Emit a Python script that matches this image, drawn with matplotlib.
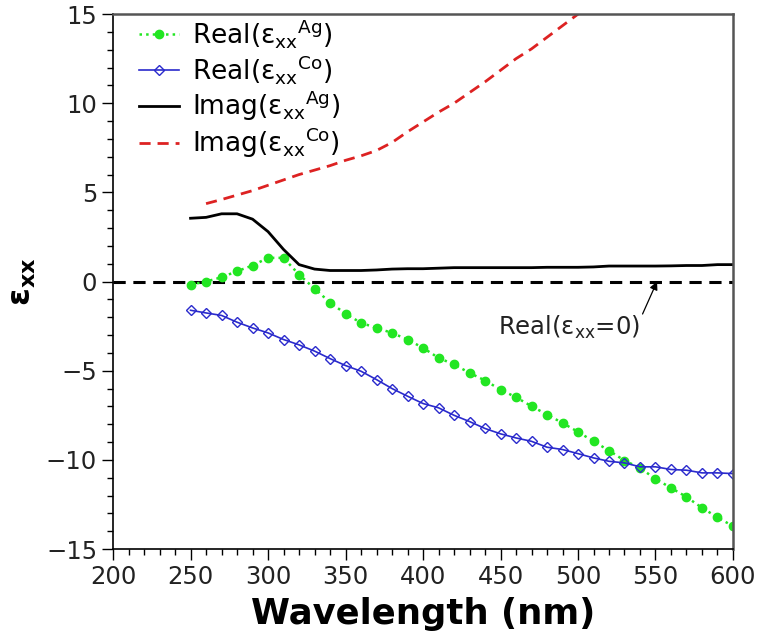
import numpy as np
import matplotlib.pyplot as plt
from matplotlib.ticker import MultipleLocator

plt.rcParams['mathtext.default'] = 'regular'

# wavelength grid (nm)
wl = np.arange(250, 601, 10)

real_ag = [-0.17, 0.0, 0.24, 0.58, 0.9, 1.33, 1.33, 0.39, -0.39, -1.18,
           -1.8, -2.32, -2.6, -2.88, -3.25, -3.72, -4.28, -4.65, -5.12, -5.55,
           -6.06, -6.49, -6.99, -7.46, -7.93, -8.43, -8.96, -9.48, -10.04, -10.45,
           -11.07, -11.57, -12.08, -12.69, -13.22, -13.72]

real_co = [-1.61, -1.76, -1.9, -2.28, -2.6, -2.88, -3.25, -3.55, -3.9, -4.32,
           -4.71, -5.03, -5.5, -6.0, -6.43, -6.84, -7.08, -7.5, -7.85, -8.24,
           -8.54, -8.77, -8.96, -9.29, -9.42, -9.65, -9.89, -10.08, -10.17, -10.39,
           -10.39, -10.54, -10.58, -10.73, -10.73, -10.77]

imag_ag = [3.55, 3.6, 3.8, 3.8, 3.5, 2.8, 1.8, 0.95, 0.7, 0.62,
           0.62, 0.62, 0.65, 0.7, 0.72, 0.72, 0.75, 0.78, 0.78, 0.78,
           0.78, 0.78, 0.78, 0.8, 0.8, 0.8, 0.82, 0.87, 0.87, 0.87,
           0.87, 0.88, 0.9, 0.9, 0.95, 0.95]

wl_co = np.arange(260, 511, 10)
imag_co = [4.37, 4.6, 4.85, 5.1, 5.4, 5.7, 6.0, 6.25, 6.5, 6.8,
           7.05, 7.35, 7.8, 8.4, 8.95, 9.5, 10.0, 10.6, 11.2, 11.85,
           12.5, 13.05, 13.7, 14.35, 15.0, 15.7]

fig = plt.figure(figsize=(7.64, 6.41), dpi=100)
ax = fig.add_axes([0.148, 0.1435, 0.8114, 0.8345])

ax.axhline(0, color='black', ls=(0, (4, 2.5)), lw=2.2, zorder=1)

ax.plot(wl, real_ag, ls=':', color='#22e622', lw=1.8, marker='o', ms=6,
        label=r'Real(ε$_{xx}$$^{Ag}$)')
ax.plot(wl, real_co, ls='-', color='#2a2acc', lw=1.2, marker='D', ms=5.5,
        mfc='none', mew=1.0, label=r'Real(ε$_{xx}$$^{Co}$)')
ax.plot(wl, imag_ag, ls='-', color='black', lw=2, label=r'Imag(ε$_{xx}$$^{Ag}$)')
ax.plot(wl_co, imag_co, ls=(0, (4, 2.5)), color='#dd2222', lw=2,
        label=r'Imag(ε$_{xx}$$^{Co}$)')

ax.annotate(r'Real(ε$_{xx}$=0)', xy=(551, 0), xytext=(494, -2.55),
            ha='center', va='center', fontsize=17.5, color='#222222',
            arrowprops=dict(arrowstyle='-|>', color='black', lw=0.9,
                            shrinkA=0, shrinkB=0, mutation_scale=12,
                            relpos=(1.0, 0.75)),
            annotation_clip=False)

ax.set_xlim(200, 600)
ax.set_ylim(-15, 15)
ax.xaxis.set_major_locator(MultipleLocator(50))
ax.xaxis.set_minor_locator(MultipleLocator(10))
ax.yaxis.set_major_locator(MultipleLocator(5))
ax.yaxis.set_minor_locator(MultipleLocator(1))
ax.tick_params(which='major', direction='out', length=8, width=1,
               labelsize=17.5, labelcolor='#222222')
ax.tick_params(which='minor', direction='out', length=4, width=1)

for s in ['top', 'right']:
    ax.spines[s].set_color('#555555')
    ax.spines[s].set_linewidth(1.8)
for s in ['left', 'bottom']:
    ax.spines[s].set_linewidth(1.2)

ax.set_xlabel('Wavelength (nm)', fontsize=25.5, fontweight='bold', labelpad=6)
ax.set_ylabel(r'ε$_{xx}$', fontsize=23, fontweight='bold', labelpad=6)

ax.legend(loc='upper left', frameon=False, fontsize=19, handlelength=1.5,
          handletextpad=0.5, labelspacing=0.1, borderaxespad=0.0,
          bbox_to_anchor=(0.025, 1.014))

fig.savefig('out.png', dpi=100)
